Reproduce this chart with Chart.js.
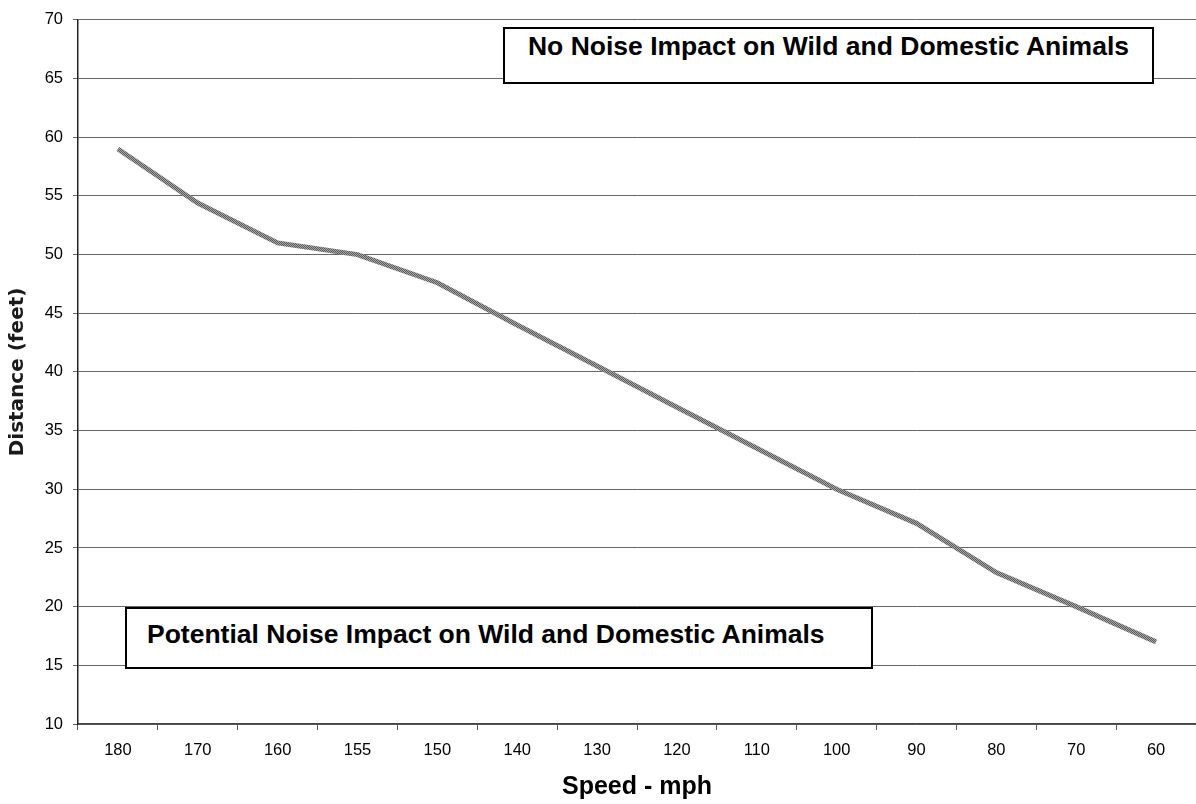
<!DOCTYPE html>
<html>
<head>
<meta charset="utf-8">
<script src="https://cdn.jsdelivr.net/npm/chart.js@4.4.1/dist/chart.umd.min.js"></script>
<style>
  html, body { margin: 0; padding: 0; background: #fff; overflow: hidden; }
  #wrap { position: relative; width: 1196px; height: 804px; }
  #c { position: absolute; left: 0; top: 0; }
  .note {
    position: absolute; box-sizing: border-box; background: #fff;
    border: 2px solid #000; font-family: 'Liberation Sans', Arial, sans-serif;
    font-weight: bold; font-size: 26.5px; line-height: 30px; color: #000; white-space: nowrap;
  }
  #noteTop { left: 503px; top: 27px; width: 651px; height: 57px; padding-top: 2px; text-align: center; }
  #noteBottom { left: 125px; top: 607px; width: 748px; height: 62px; padding-top: 10px; padding-left: 20px; }
</style>
</head>
<body>
<div id="wrap">
  <canvas id="c" width="1196" height="804"></canvas>
  <div class="note" id="noteTop">No Noise Impact on Wild and Domestic Animals</div>
  <div class="note" id="noteBottom">Potential Noise Impact on Wild and Domestic Animals</div>
</div>
<script>
const speedLabels = ['180', '170', '160', '155', '150', '140', '130', '120', '110', '100', '90', '80', '70', '60'];
const distanceFeet = [59, 54.4, 51, 50, 47.6, 44, 40.5, 37, 33.5, 30, 27.1, 22.9, 20, 17];
const yMin = 10, yMax = 70, yStep = 5;
const xTitle = 'Speed - mph';
const yTitle = 'Distance (feet)';

// textured grey line pattern
const pc = document.createElement('canvas');
pc.width = 2; pc.height = 2;
const pctx = pc.getContext('2d');
pctx.fillStyle = '#a6a6a6'; pctx.fillRect(0, 0, 2, 2);
pctx.fillStyle = '#5c5c5c'; pctx.fillRect(0, 0, 1, 1); pctx.fillRect(1, 1, 1, 1);
const ctx = document.getElementById('c').getContext('2d');
const linePattern = ctx.createPattern(pc, 'repeat');

const FONT = "'Liberation Sans', Arial, sans-serif";

new Chart(ctx, {
  type: 'line',
  data: {
    labels: speedLabels,
    datasets: [{
      data: distanceFeet,
      borderColor: linePattern,
      borderWidth: 5,
      pointRadius: 0,
      tension: 0,
      fill: false
    }]
  },
  options: {
    responsive: false,
    animation: false,
    layout: { padding: { left: 0, right: 0, top: 16, bottom: 0 } },
    plugins: { legend: { display: false }, tooltip: { enabled: false } },
    scales: {
      x: {
        type: 'category',
        offset: true,
        grid: { offset: true, drawOnChartArea: false, drawTicks: true, tickLength: 6, color: '#555', lineWidth: 1 },
        border: { display: true, color: '#444', width: 1.5 },
        ticks: { color: '#000', font: { family: FONT, size: 16.5 }, padding: 11, maxRotation: 0, autoSkip: false },
        title: { display: true, text: xTitle, color: '#000', font: { family: FONT, size: 25, weight: 'bold' }, padding: { top: 0, bottom: 2 } },
        afterFit: s => { s.height = 80; }
      },
      y: {
        min: yMin, max: yMax,
        grid: { color: '#666', lineWidth: 1, tickLength: 5, drawTicks: true },
        border: { display: true, color: '#222', width: 1.5 },
        ticks: { stepSize: yStep, color: '#000', font: { family: FONT, size: 16.5 }, padding: 10 },
        title: { display: true, text: yTitle, color: '#1a1a1a', font: { family: "'DejaVu Sans', 'Liberation Sans', sans-serif", size: 20, weight: 'bold' }, padding: { top: 6, bottom: 0 } },
        afterFit: s => { s.width = 78; }
      }
    }
  }
});
</script>
</body>
</html>
